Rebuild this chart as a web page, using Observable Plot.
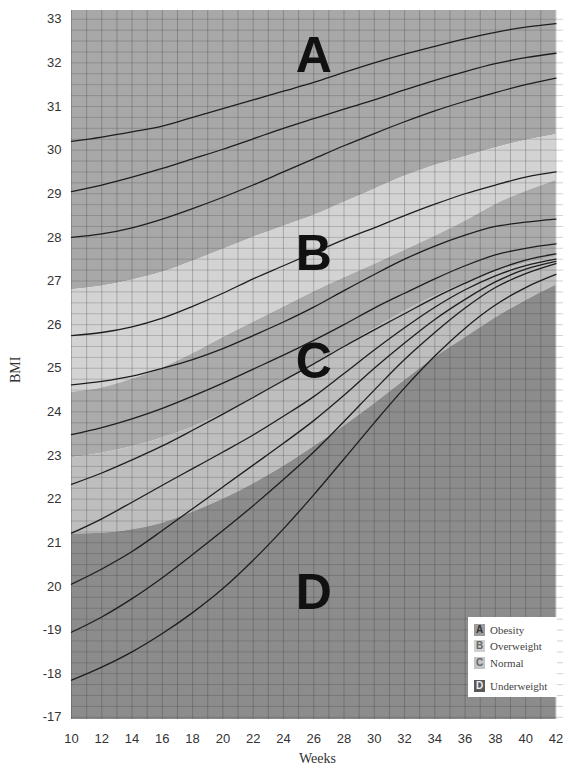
<!DOCTYPE html>
<html>
<head>
<meta charset="utf-8">
<script src="https://cdn.jsdelivr.net/npm/d3@7"></script>
<script src="https://cdn.jsdelivr.net/npm/@observablehq/plot@0.6"></script>
<style>
  body { margin: 0; background: #fff; }
  #wrap { position: relative; width: 563px; height: 771px; overflow: hidden; }
  #legend { position: absolute; left: 468px; top: 617px; width: 89px; height: 80px; background: #fff;
            font-family: "Liberation Serif", "DejaVu Serif", serif; font-size: 11px; color: #444; }
  #legend .row { position: absolute; left: 6px; height: 12px; line-height: 12px; white-space: nowrap; }
  #legend .sq { display: inline-block; width: 11px; height: 12px; margin-right: 5px; text-align: center;
                font-family: "Liberation Sans", Arial, sans-serif; font-size: 10px; font-weight: bold; vertical-align: top; }
</style>
</head>
<body>
<div id="wrap"><div id="legend"></div></div>
<script>
// ---- data ----
const weeks = [10, 12, 14, 16, 18, 20, 22, 24, 26, 28, 30, 32, 34, 36, 38, 40, 42];

// percentile curves (BMI), top to bottom
const curve1  = [30.2, 30.3, 30.42, 30.55, 30.75, 30.95, 31.15, 31.35, 31.55, 31.78, 32.0, 32.2, 32.38, 32.55, 32.7, 32.82, 32.9];
const curve2  = [29.05, 29.2, 29.38, 29.58, 29.8, 30.02, 30.26, 30.5, 30.72, 30.94, 31.15, 31.38, 31.6, 31.8, 31.98, 32.12, 32.22];
const curve3  = [28.0, 28.08, 28.22, 28.42, 28.66, 28.92, 29.2, 29.5, 29.8, 30.1, 30.38, 30.65, 30.9, 31.12, 31.32, 31.5, 31.65];
const curve4  = [25.75, 25.82, 25.95, 26.15, 26.42, 26.72, 27.05, 27.35, 27.65, 27.95, 28.22, 28.5, 28.76, 29.0, 29.2, 29.38, 29.5];
const curve5  = [24.62, 24.7, 24.82, 25.0, 25.2, 25.45, 25.75, 26.06, 26.4, 26.78, 27.15, 27.5, 27.8, 28.05, 28.25, 28.35, 28.42];
const curve6  = [23.48, 23.64, 23.84, 24.08, 24.36, 24.66, 24.98, 25.3, 25.64, 26.0, 26.38, 26.72, 27.05, 27.35, 27.6, 27.75, 27.85];
const curve7  = [22.34, 22.6, 22.9, 23.22, 23.58, 23.95, 24.33, 24.72, 25.1, 25.5, 25.88, 26.25, 26.62, 26.95, 27.25, 27.48, 27.62];
const curve8  = [21.22, 21.55, 21.93, 22.32, 22.7, 23.08, 23.47, 23.9, 24.35, 24.88, 25.42, 25.93, 26.4, 26.8, 27.12, 27.35, 27.5];
const curve9  = [20.05, 20.4, 20.8, 21.28, 21.78, 22.28, 22.78, 23.28, 23.8, 24.38, 25.0, 25.58, 26.12, 26.58, 26.98, 27.27, 27.45];
const curve10 = [18.95, 19.3, 19.72, 20.2, 20.73, 21.28, 21.85, 22.45, 23.08, 23.78, 24.5, 25.2, 25.82, 26.38, 26.85, 27.17, 27.4];
const curve11 = [17.85, 18.15, 18.5, 18.92, 19.4, 19.95, 20.6, 21.32, 22.1, 22.92, 23.75, 24.55, 25.28, 25.92, 26.45, 26.85, 27.15];

// zone boundaries (BMI)
const boundAB = [26.8, 26.88, 27.02, 27.2, 27.45, 27.72, 28.0, 28.25, 28.5, 28.8, 29.1, 29.4, 29.65, 29.85, 30.05, 30.22, 30.35];
const boundBC = [24.45, 24.55, 24.75, 25.0, 25.33, 25.7, 26.05, 26.4, 26.75, 27.07, 27.38, 27.7, 28.02, 28.37, 28.75, 29.05, 29.3];
const boundCL = [22.95, 23.05, 23.2, 23.4, 23.65, 23.95, 24.3, 24.7, 25.1, 25.5, 25.9, 26.3, 26.65, 26.95, 27.2, 27.4, 27.55];
const boundCD = [21.2, 21.22, 21.3, 21.45, 21.7, 22.0, 22.35, 22.75, 23.2, 23.67, 24.18, 24.72, 25.24, 25.7, 26.15, 26.55, 26.9];

// axes
const xTicks = [10, 12, 14, 16, 18, 20, 22, 24, 26, 28, 30, 32, 34, 36, 38, 40, 42];
const yTicks = [17, 18, 19, 20, 21, 22, 23, 24, 25, 26, 27, 28, 29, 30, 31, 32, 33];
const yTickLabels = ["-17", "-18", "-19", "20", "21", "22", "23", "24", "25", "26", "27", "28", "29", "30", "31", "32", "33"];

// zone letters
const zoneLetters = ["A", "B", "C", "D"];
const zoneWeek = [26, 26, 26, 26];
const zoneBMI = [32.15, 27.62, 25.15, 19.84];

// legend
const legendLetters = ["A", "B", "C", "D"];
const legendNames = ["Obesity", "Overweight", "Normal", "Underweight"];

// ---- styles ----
const yMin = 16.95, yMax = 33.2;
const colA = "#a8a8a8", colB = "#d3d3d3", colC = "#ababab", colCL = "#bebebe", colD = "#8c8c8c";

// ---- build tables ----
const curves = [curve1, curve2, curve3, curve4, curve5, curve6, curve7, curve8, curve9, curve10, curve11];
const lineRows = curves.flatMap((c, k) => c.map((v, i) => ({id: k, week: weeks[i], bmi: v})));
const band = (lo, hi) => weeks.map((w, i) => ({week: w, lo: typeof lo === "number" ? lo : lo[i], hi: typeof hi === "number" ? hi : hi[i]}));
const labelMap = new Map(yTicks.map((t, i) => [t, yTickLabels[i]]));
const letterRows = zoneLetters.map((l, i) => ({l, week: zoneWeek[i], bmi: zoneBMI[i]}));

const gridX = d3.range(10, 43, 1);
const gridY = d3.range(17, 33.2, 0.25);

const areaOpts = {x: "week", y1: "lo", y2: "hi", curve: "monotone-x"};

const chart = Plot.plot({
  width: 563,
  height: 771,
  marginLeft: 71,
  marginRight: 0,
  marginTop: 10,
  marginBottom: 52,
  style: {background: "#fff", color: "#333"},
  x: {domain: [10, 42.5]},
  y: {domain: [yMin, yMax]},
  marks: [
    Plot.areaY(band(boundAB, yMax), {...areaOpts, fill: colA}),
    Plot.areaY(band(boundBC, boundAB), {...areaOpts, fill: colB}),
    Plot.areaY(band(boundCL, boundBC), {...areaOpts, fill: colC}),
    Plot.areaY(band(boundCD, boundCL), {...areaOpts, fill: colCL}),
    Plot.areaY(band(yMin, boundCD), {...areaOpts, fill: colD}),
    Plot.ruleX(gridX, {stroke: "#333", strokeOpacity: 0.28, strokeWidth: 1}),
    Plot.ruleY(gridY, {stroke: "#333", strokeOpacity: 0.22, strokeWidth: 1}),
    Plot.line(lineRows, {x: "week", y: "bmi", z: "id", stroke: "#1e1e1e", strokeWidth: 1.3, curve: "monotone-x"}),
    Plot.text(letterRows, {x: "week", y: "bmi", text: "l", fontSize: 50, fontWeight: "bold",
      fontFamily: "Liberation Sans, Arial, sans-serif", fill: "#111"}),
    Plot.axisX({ticks: xTicks, tickSize: 0, tickPadding: 14, label: null, fontSize: 13,
      fontFamily: "Liberation Sans, Arial, sans-serif"}),
    Plot.axisY({ticks: yTicks, tickFormat: d => labelMap.get(d), tickSize: 0, tickPadding: 10, label: null, fontSize: 13,
      fontFamily: "Liberation Sans, Arial, sans-serif"}),
    Plot.text(["Weeks"], {frameAnchor: "bottom", dy: 43, fontSize: 14, fill: "#333",
      fontFamily: "Liberation Serif, DejaVu Serif, serif"}),
    Plot.text(["BMI"], {frameAnchor: "left", dx: -56, dy: 18, rotate: -90, fontSize: 14, fill: "#333",
      fontFamily: "Liberation Serif, DejaVu Serif, serif"})
  ]
});

const wrap = document.getElementById("wrap");
wrap.insertBefore(chart, wrap.firstChild);

// legend overlay
const legend = document.getElementById("legend");
const sqStyle = [
  {bg: "#9c9c9c", fg: "#333"},
  {bg: "#d0d0d0", fg: "#666"},
  {bg: "#c4c4c4", fg: "#666"},
  {bg: "#5a5a5a", fg: "#eee"}
];
const rowTops = [7, 23, 40, 63];
legendLetters.forEach((l, i) => {
  const row = document.createElement("div");
  row.className = "row";
  row.style.top = rowTops[i] + "px";
  const sq = document.createElement("span");
  sq.className = "sq";
  sq.style.background = sqStyle[i].bg;
  sq.style.color = sqStyle[i].fg;
  sq.textContent = l;
  row.appendChild(sq);
  row.appendChild(document.createTextNode(legendNames[i]));
  legend.appendChild(row);
});
</script>
</body>
</html>
